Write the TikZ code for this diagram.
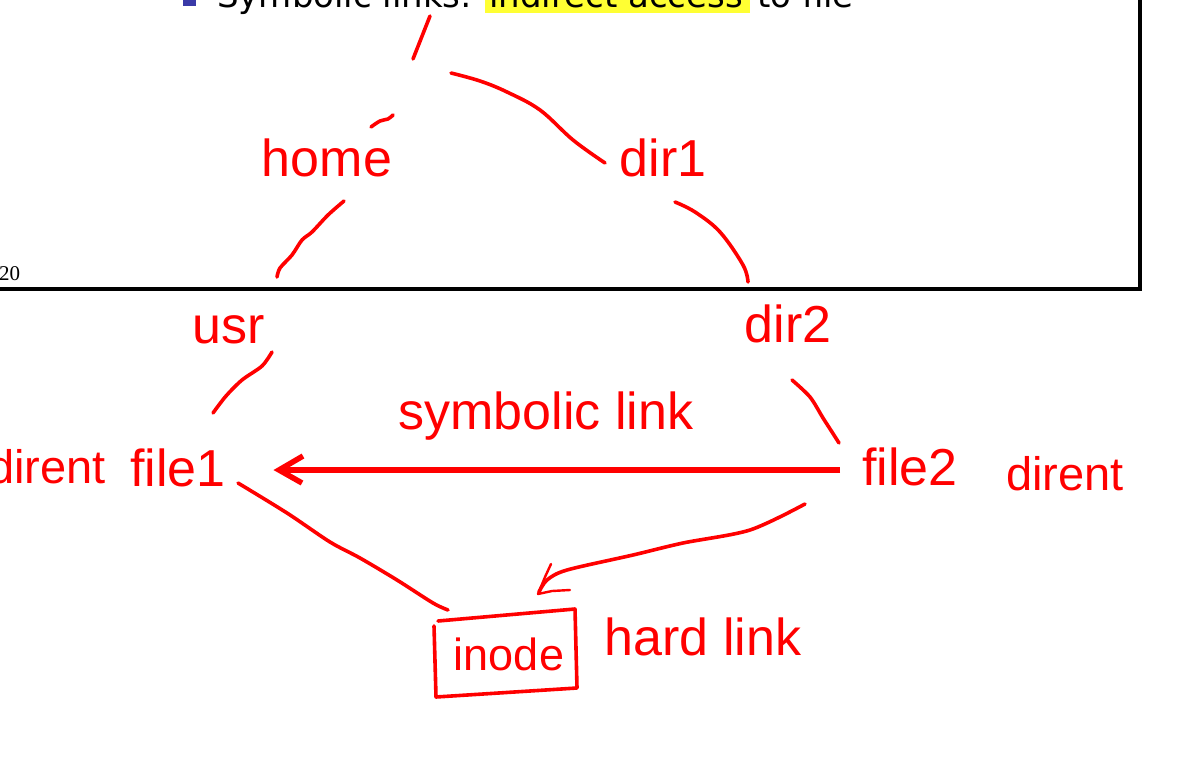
\documentclass[tikz,border=0pt]{standalone}
\usepackage{fontspec}
\setmainfont{Liberation Sans}
\newfontfamily\slidefont{DejaVu Sans}
\newfontfamily\pagefont{Liberation Serif}
\definecolor{inkred}{HTML}{FF0000}
\definecolor{hiyellow}{HTML}{FFFF33}
\definecolor{bulletblue}{HTML}{3A3AA8}
\begin{document}
\begin{tikzpicture}[x=1pt,y=-1pt,
  ink/.style={draw=inkred,line width=3.6pt,line cap=round,line join=round},
  lbl/.style={text=inkred,inner sep=0pt,anchor=base,font=\fontsize{52}{60}\selectfont},
  direntlbl/.style={text=inkred,inner sep=0pt,anchor=base,font=\fontsize{47}{54}\selectfont},
  smalllbl/.style={text=inkred,inner sep=0pt,anchor=base,font=\fontsize{45}{52}\selectfont},
  slide/.style={inner sep=0pt,anchor=base west,font=\slidefont\fontsize{34}{40}\selectfont}]
\useasboundingbox (0,0) rectangle (1190,770);
\clip (0,0) rectangle (1190,770);
\fill[white] (0,0) rectangle (1190,770);
% slide frame
\draw[line width=4pt] (-20,-20) rectangle (1140,289);
\node[inner sep=0pt,anchor=base west,font=\pagefont\fontsize{21}{24}\selectfont] (pg) at (-1,280) {20};
% slide title (cut off)
\fill[bulletblue] (183,-20) rectangle (196,6);
\fill[hiyellow] (485,-20) rectangle (750,13);
\node[slide] (t1) at (217,8) {Symbolic links:};
\node[slide] (t2) at (489,8) {indirect access};
\node[slide] (t3) at (757,8) {to file};
% labels
\node[lbl] (home) at (327,177) {home};
\node[lbl] (dir1) at (663,177) {dir1};
\node[lbl] (usr) at (229,343) {usr};
\node[lbl] (dir2) at (788,342) {dir2};
\node[lbl] (sym) at (546,429) {symbolic link};
\node[direntlbl] (dl) at (47,483) {dirent};
\node[lbl] (file1) at (178,486) {file1};
\node[lbl] (file2) at (910,485) {file2};
\node[direntlbl] (dr) at (1065,490) {dirent};
\node[smalllbl] (inode) at (509,670) {inode};
\node[lbl] (hard) at (703,655) {hard link};
% inode box
\draw[ink] (438,621) -- (575,609) -- (577,688) -- (436,697) -- (434,626);
% root strokes
\coordinate (r1) at (430,16);
\coordinate (r2) at (413,59);
\draw[ink] (r1) -- (r2);
\draw[ink] plot[smooth,tension=0.6] coordinates {(371,127) (380,121) (388,119) (393,115)};
\draw[ink] plot[smooth,tension=0.6] coordinates {(451,73) (480,81) (507,92) (540,110) (573,140) (605,163)};
% home - usr
\draw[ink] plot[smooth,tension=0.5] coordinates {(344,201) (328,215) (312,232) (302,240) (292,255) (280,268) (277,277)};
% dir1 - dir2
\draw[ink] plot[smooth,tension=0.6] coordinates {(675,202) (695,212) (720,232) (743,265) (748,282)};
% usr - file1
\draw[ink] plot[smooth,tension=0.5] coordinates {(272,352) (262,366) (242,380) (226,396) (213,413)};
% dir2 - file2
\draw[ink] plot[smooth,tension=0.5] coordinates {(792,380) (810,397) (823,418) (832,432) (839,443)};
% symbolic link arrow
\coordinate (sa) at (840,470);
\coordinate (se) at (279,470);
\draw[draw=inkred,line width=5.5pt] (sa) -- (se);
\draw[draw=inkred,line width=5.5pt,line join=miter] (303,456) -- (se) -- (302,483);
% file1 - inode
\draw[ink] plot[smooth,tension=0.5] coordinates {(238,483) (287,513) (330,542) (360,558) (397,580) (433,603) (448,610)};
% file2 - inode (hard link arrow)
\draw[ink] plot[smooth,tension=0.5] coordinates {(805,504) (750,530) (683,543) (633,555) (567,570) (547,580) (539,592)};
\draw[draw=inkred,line width=2.4pt,line cap=round,line join=round] (551,564) -- (545,577) -- (538,594) -- (552,591) -- (570,590);
\end{tikzpicture}
\end{document}
